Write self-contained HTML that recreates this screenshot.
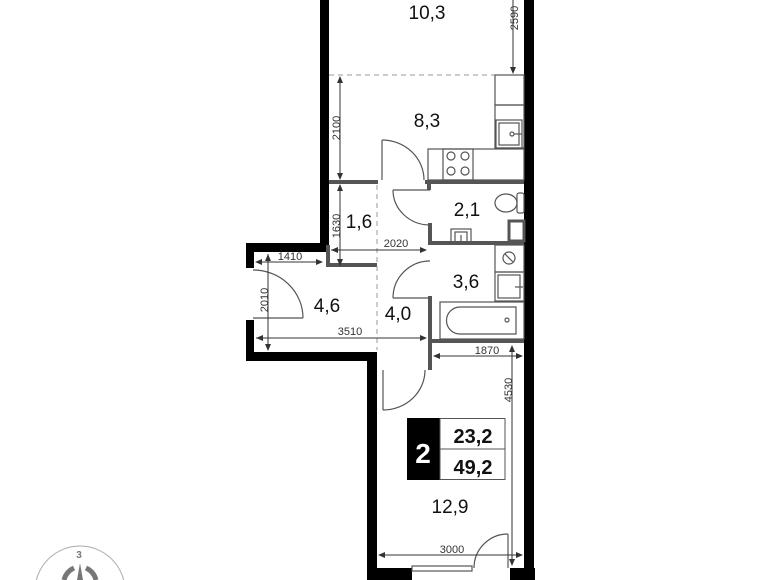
<!DOCTYPE html>
<html><head><meta charset="utf-8"><style>
html,body{margin:0;padding:0;background:#fff;width:780px;height:580px;overflow:hidden;}
svg{display:block;}
text{font-family:"Liberation Sans",sans-serif;}
</style></head><body>
<svg width="780" height="580" viewBox="0 0 780 580" xmlns="http://www.w3.org/2000/svg">
<rect width="780" height="580" fill="#fff"/>
<g fill="#000">
<rect x="320" y="0" width="9" height="252"/>
<rect x="246" y="243" width="83" height="9"/>
<rect x="246" y="243" width="8" height="25"/>
<rect x="246" y="320" width="8" height="40"/>
<rect x="246" y="352" width="131" height="9"/>
<rect x="367" y="352" width="10" height="228"/>
<rect x="367" y="568" width="45" height="12"/>
<rect x="510" y="568" width="25" height="12"/>
<rect x="524" y="0" width="10" height="580"/>
</g>
<g fill="#555">
<rect x="329" y="180" width="49" height="4"/>
<rect x="425" y="180" width="99" height="4"/>
<rect x="427" y="184" width="4" height="6"/>
<rect x="428" y="223" width="4" height="22"/>
<rect x="428" y="241" width="96" height="4"/>
<rect x="326" y="245" width="4" height="22"/>
<rect x="326" y="263" width="51" height="4"/>
<rect x="428" y="296" width="4" height="74"/>
<rect x="428" y="339" width="96" height="4"/>
</g>
<g stroke="#999" stroke-width="1" stroke-dasharray="5,4" fill="none">
<line x1="329" y1="75" x2="495" y2="75"/>
<line x1="377" y1="185" x2="377" y2="350"/>
</g>
<g stroke="#555" stroke-width="1.2" fill="none">
<rect x="495" y="75" width="29" height="30"/>
<rect x="495" y="105" width="29" height="43"/>
<rect x="496" y="120" width="26" height="28"/>
<rect x="499" y="123" width="20" height="22"/>
<circle cx="512" cy="134" r="2"/>
<line x1="514" y1="134" x2="522" y2="134"/>
<rect x="428" y="149" width="96" height="31"/>
<rect x="443" y="149" width="30" height="31"/>
<circle cx="451" cy="156" r="4"/><circle cx="465" cy="156" r="4"/>
<circle cx="451" cy="171" r="4"/><circle cx="465" cy="171" r="4"/>
<ellipse cx="506" cy="203" rx="11" ry="9"/>
<rect x="517" y="193" width="7" height="20" rx="2"/>
<rect x="509" y="221" width="15" height="20" stroke-width="3"/>
<rect x="451" y="229" width="20" height="13"/>
<rect x="455" y="232" width="12" height="10"/>
<line x1="461" y1="235" x2="461" y2="242"/>
<rect x="495" y="245" width="29" height="27"/>
<circle cx="509" cy="258" r="6"/>
<line x1="505" y1="254" x2="513" y2="262"/>
<rect x="495" y="272" width="29" height="29"/>
<rect x="498" y="275" width="22" height="23"/>
<line x1="515" y1="287" x2="523" y2="287"/>
<rect x="440" y="302" width="84" height="37"/>
<path d="M460 307 H516 V334 H460 A13.5 13.5 0 0 1 460 307 Z"/>
<circle cx="507" cy="320" r="2"/>
<line x1="382" y1="140" x2="382" y2="180"/>
<path d="M382 140 A42 40 0 0 1 424 180"/>
<line x1="393" y1="190" x2="430" y2="190"/>
<path d="M393 190 A37 35 0 0 0 430 225"/>
<line x1="393" y1="298" x2="430" y2="298"/>
<path d="M393 298 A37 37 0 0 1 430 261"/>
<line x1="253" y1="318" x2="303" y2="318"/>
<path d="M253 270 A50 48 0 0 1 303 318"/>
<line x1="383" y1="370" x2="383" y2="410"/>
<path d="M383 410 A42 40 0 0 0 425 370"/>
<line x1="508" y1="534" x2="508" y2="568"/>
<path d="M508 534 A34 34 0 0 0 474 568"/>
<rect x="412" y="566" width="60" height="5"/>
</g>
<g stroke="#333" stroke-width="1" fill="none">
<line x1="513" y1="0" x2="513" y2="72"/>
<line x1="340" y1="78" x2="340" y2="178"/>
<line x1="340" y1="186" x2="340" y2="266"/>
<line x1="331" y1="250" x2="426" y2="250"/>
<line x1="256" y1="262" x2="322" y2="262"/>
<line x1="268" y1="254" x2="268" y2="350"/>
<line x1="256" y1="338" x2="426" y2="338"/>
<line x1="434" y1="356" x2="522" y2="356"/>
<line x1="512" y1="346" x2="512" y2="565"/>
<line x1="379" y1="555" x2="522" y2="555"/>
</g>
<g fill="#333">
<path d="M513 74 l-3 -7 h6z"/>
<path d="M340 76 l-3 7 h6z"/><path d="M340 180 l-3 -7 h6z"/>
<path d="M340 184 l-3 7 h6z"/><path d="M340 266 l-3 -7 h6z"/>
<path d="M331 250 l7 -3 v6z"/><path d="M427 250 l-7 -3 v6z"/>
<path d="M255 262 l7 -3 v6z"/><path d="M323 262 l-7 -3 v6z"/>
<path d="M268 254 l-3 7 h6z"/><path d="M268 351 l-3 -7 h6z"/>
<path d="M256 338 l7 -3 v6z"/><path d="M427 338 l-7 -3 v6z"/>
<path d="M433 356 l7 -3 v6z"/><path d="M523 356 l-7 -3 v6z"/>
<path d="M512 345 l-3 7 h6z"/><path d="M512 566 l-3 -7 h6z"/>
<path d="M378 555 l7 -3 v6z"/><path d="M523 555 l-7 -3 v6z"/>
</g>
<g font-size="11" fill="#333" text-anchor="middle">
<text x="518" y="18" transform="rotate(-90 518 18)">2590</text>
<text x="336" y="128" transform="rotate(-90 336 128)" dy="4">2100</text>
<text x="336" y="226" transform="rotate(-90 336 226)" dy="4">1630</text>
<text x="396" y="247">2020</text>
<text x="290" y="260">1410</text>
<text x="264" y="300" transform="rotate(-90 264 300)" dy="4">2010</text>
<text x="350" y="335">3510</text>
<text x="487" y="354">1870</text>
<text x="508" y="390" transform="rotate(-90 508 390)" dy="4">4530</text>
<text x="452" y="553">3000</text>
</g>
<g font-size="19" fill="#111" text-anchor="middle">
<text x="427" y="19">10,3</text>
<text x="427" y="127">8,3</text>
<text x="359" y="228">1,6</text>
<text x="467" y="216">2,1</text>
<text x="466" y="288">3,6</text>
<text x="327" y="312">4,6</text>
<text x="398" y="320">4,0</text>
<text x="450" y="513">12,9</text>
</g>
<rect x="407" y="418" width="33" height="62" fill="#000"/>
<rect x="440" y="418.5" width="65" height="61" fill="none" stroke="#555" stroke-width="1"/>
<line x1="440" y1="449" x2="505" y2="449" stroke="#555"/>
<text x="423" y="463" font-size="28" font-weight="bold" fill="#fff" text-anchor="middle">2</text>
<text x="473" y="443" font-size="20" font-weight="bold" fill="#111" text-anchor="middle">23,2</text>
<text x="473" y="474" font-size="20" font-weight="bold" fill="#111" text-anchor="middle">49,2</text>
<circle cx="80" cy="591" r="45" fill="none" stroke="#aaa" stroke-width="1"/>
<text x="79" y="558" font-size="10" font-weight="bold" fill="#777" text-anchor="middle">3</text>
<path d="M80 563 L77 580 L83 580 Z" fill="#777"/>
<path d="M64 580 A18 18 0 0 1 74 568" stroke="#777" stroke-width="5" fill="none"/>
<path d="M86 568 A18 18 0 0 1 96 580" stroke="#777" stroke-width="5" fill="none"/>
</svg>
</body></html>
